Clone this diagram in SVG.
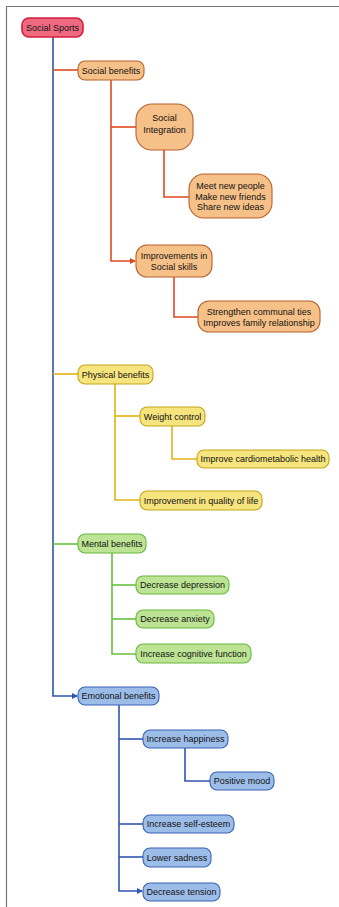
<svg xmlns="http://www.w3.org/2000/svg" width="339" height="907" viewBox="0 0 339 907">
<style>
text{font-family:"Liberation Sans",Arial,sans-serif;font-size:9px;fill:#111;text-anchor:middle;dominant-baseline:central}
.root rect{fill:#ef6a80;stroke:#d41f3c;stroke-width:1.6}
.or rect{fill:#f6c188;stroke:#b9602c;stroke-width:1.1}
.ye rect{fill:#f6e47e;stroke:#c4a51a;stroke-width:1.1}
.gr rect{fill:#bde494;stroke:#68b83c;stroke-width:1.1}
.bl rect{fill:#9dbde9;stroke:#3763b5;stroke-width:1.1}
.c{fill:none;stroke-width:1.6}
.co{stroke:#e04a20}
.cy{stroke:#e2b414}
.cg{stroke:#68c03c}
.cb{stroke:#2f56b2}
</style>
<defs>
<marker id="ao" markerWidth="6" markerHeight="6" refX="5" refY="3" orient="auto" markerUnits="userSpaceOnUse"><path d="M0,0 L6,3 L0,6 z" fill="#e04a20"/></marker>
<marker id="ab" markerWidth="6" markerHeight="6" refX="5" refY="3" orient="auto" markerUnits="userSpaceOnUse"><path d="M0,0 L6,3 L0,6 z" fill="#2f56b2"/></marker>
</defs>
<rect x="0" y="0" width="339" height="907" fill="#fff"/>
<path d="M6.5,907 V6.5 H339" fill="none" stroke="#777" stroke-width="1.2"/>
<g id="connectors">
<path class="c cb" d="M53,37 V696 H77" marker-end="url(#ab)"/>
<path class="c co" d="M53,70 H78"/>
<path class="c co" d="M111,80 V261 H135" marker-end="url(#ao)"/>
<path class="c co" d="M111,127 H136"/>
<path class="c co" d="M164,150 V197 H189"/>
<path class="c co" d="M174,277 V317 H198"/>
<path class="c cy" d="M53,374 H78"/>
<path class="c cy" d="M115,384 V500 H140"/>
<path class="c cy" d="M115,416 H140"/>
<path class="c cy" d="M172,426 V459 H197"/>
<path class="c cg" d="M53,544 H78"/>
<path class="c cg" d="M112,553 V654 H136"/>
<path class="c cg" d="M112,585 H136"/>
<path class="c cg" d="M112,619 H136"/>
<path class="c cb" d="M119,705 V891 H142" marker-end="url(#ab)"/>
<path class="c cb" d="M119,739 H143"/>
<path class="c cb" d="M119,824 H143"/>
<path class="c cb" d="M119,857 H143"/>
<path class="c cb" d="M185,748 V781 H210"/>
</g>
<g id="social-sports" class="root"><rect x="22" y="18" width="61" height="19" rx="7"/><text x="52.5" y="28">Social Sports</text></g>
<g id="social-benefits" class="or"><rect x="78" y="61" width="66" height="19" rx="7"/><text x="111" y="70.5">Social benefits</text></g>
<g id="social-integration" class="or"><rect x="136" y="104" width="57" height="46" rx="16"/><text x="164.5" y="118">Social</text><text x="164.5" y="129.5">Integration</text></g>
<g id="meet-new-people" class="or"><rect x="189" y="174" width="83" height="44" rx="15"/><text x="230.5" y="186">Meet new people</text><text x="230.5" y="196.5">Make new friends</text><text x="230.5" y="207">Share new ideas</text></g>
<g id="improvements-social-skills" class="or"><rect x="136" y="245" width="76" height="32" rx="11"/><text x="174" y="256">Improvements in</text><text x="174" y="267">Social skills</text></g>
<g id="strengthen" class="or"><rect x="198" y="301" width="122" height="31" rx="11"/><text x="259" y="311.5">Strengthen communal ties</text><text x="259" y="322.5">Improves family relationship</text></g>
<g id="physical-benefits" class="ye"><rect x="78" y="365" width="75" height="19" rx="7"/><text x="115.5" y="374.5">Physical benefits</text></g>
<g id="weight-control" class="ye"><rect x="140" y="407" width="65" height="19" rx="7"/><text x="172.5" y="416.5">Weight control</text></g>
<g id="cardiometabolic" class="ye"><rect x="197" y="450" width="132" height="18" rx="7"/><text x="263" y="459">Improve cardiometabolic health</text></g>
<g id="quality-of-life" class="ye"><rect x="140" y="491" width="122" height="19" rx="7"/><text x="201" y="500.5">Improvement in quality of life</text></g>
<g id="mental-benefits" class="gr"><rect x="78" y="534" width="68" height="19" rx="7"/><text x="112" y="543.5">Mental benefits</text></g>
<g id="decrease-depression" class="gr"><rect x="136" y="576" width="93" height="18" rx="7"/><text x="182.5" y="585">Decrease depression</text></g>
<g id="decrease-anxiety" class="gr"><rect x="136" y="610" width="78" height="18" rx="7"/><text x="175" y="619">Decrease anxiety</text></g>
<g id="cognitive-function" class="gr"><rect x="136" y="644" width="115" height="19" rx="7"/><text x="193.5" y="653.5">Increase cognitive function</text></g>
<g id="emotional-benefits" class="bl"><rect x="78" y="687" width="81" height="18" rx="7"/><text x="118.5" y="696">Emotional benefits</text></g>
<g id="increase-happiness" class="bl"><rect x="143" y="730" width="85" height="18" rx="7"/><text x="185.5" y="739">Increase happiness</text></g>
<g id="positive-mood" class="bl"><rect x="210" y="772" width="64" height="18" rx="7"/><text x="242" y="781">Positive mood</text></g>
<g id="self-esteem" class="bl"><rect x="143" y="815" width="91" height="18" rx="7"/><text x="188.5" y="824">Increase self-esteem</text></g>
<g id="lower-sadness" class="bl"><rect x="143" y="848" width="68" height="19" rx="7"/><text x="177" y="857.5">Lower sadness</text></g>
<g id="decrease-tension" class="bl"><rect x="143" y="883" width="77" height="18" rx="7"/><text x="181.5" y="892">Decrease tension</text></g>
</svg>
